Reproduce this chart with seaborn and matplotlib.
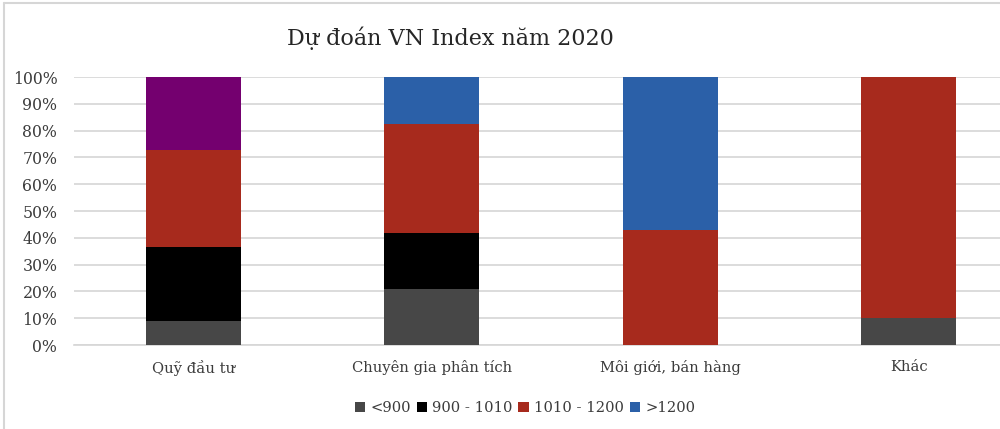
import numpy as np
import pandas as pd
import matplotlib
matplotlib.use("Agg")
import matplotlib.pyplot as plt
from matplotlib.patches import Patch
from matplotlib.lines import Line2D
import seaborn as sns

# Data (percent of respondents per group)
categories = ["Quỹ đầu tư", "Chuyên gia phân tích", "Môi giới, bán hàng", "Khác"]
series_names = ["<900", "900 - 1010", "1010 - 1200", ">1200"]
lt_900 = [9.1, 20.9, 0.0, 10.0]
from_900_to_1010 = [27.3, 20.8, 0.0, 0.0]
from_1010_to_1200 = [36.3, 40.9, 42.9, 90.0]
gt_1200 = [27.3, 17.4, 57.1, 0.0]
series_colors = ["#474747", "#000000", "#a72a1d", "#2b60a8"]
purple = "#74006f"  # first bar's top segment is drawn purple in the original

sns.set_theme(style="white")
plt.rcParams["font.family"] = ["DejaVu Serif"]
text_color = "#3c3c3c"
grid_color = "#d6d6d6"

df = pd.DataFrame({
    "category": categories,
    series_names[0]: lt_900,
    series_names[1]: from_900_to_1010,
    series_names[2]: from_1010_to_1200,
    series_names[3]: gt_1200,
})
# cumulative tops, drawn from the top layer down so lower layers sit on top
cum = df[series_names].cumsum(axis=1)

fig = plt.figure(figsize=(10, 4.29), dpi=100)
ax = fig.add_axes([0.074, 0.1958, 0.954, 0.6247])

for name, color in reversed(list(zip(series_names, series_colors))):
    sns.barplot(x=df["category"], y=cum[name], color=color, width=0.4,
                saturation=1, linewidth=0, ax=ax, zorder=3)

# recolor the >1200 segment of the first bar
n = len(categories)
ax.patches[0].set_facecolor(purple)

ax.set_xlim(-0.5, n - 0.5)
ax.set_ylim(0, 100)
ax.set_yticks(np.arange(0, 101, 10))
ax.set_yticklabels([f"{v}%" for v in range(0, 101, 10)])
ax.set_xlabel("")
ax.set_ylabel("")
ax.yaxis.grid(True, color=grid_color, linewidth=1.2, zorder=0)
ax.set_axisbelow(True)
for side in ["top", "right", "left"]:
    ax.spines[side].set_visible(False)
ax.spines["bottom"].set_color(grid_color)
ax.spines["bottom"].set_linewidth(1.2)
ax.tick_params(axis="y", length=0, pad=12, labelsize=11.3, labelcolor=text_color)
ax.tick_params(axis="x", length=0, pad=11, labelsize=10.6, labelcolor=text_color)

fig.text(0.45, 1 - 38 / 429, "Dự đoán VN Index năm 2020", ha="center", va="center",
         fontsize=16, color="#262626")

handles = [Patch(facecolor=c, edgecolor="none") for c in series_colors]
fig.legend(handles, series_names, loc="center", bbox_to_anchor=(0.525, 1 - 408 / 429),
           ncol=4, frameon=False, fontsize=10.6, handlelength=0.7, handleheight=0.7,
           handletextpad=0.35, columnspacing=0.4, labelcolor=text_color)

# outer chart frame (top and left edges visible in the crop)
fig.add_artist(Line2D([0.004, 1.0], [1 - 3 / 429, 1 - 3 / 429], color=grid_color,
                      linewidth=1.5, transform=fig.transFigure))
fig.add_artist(Line2D([0.004, 0.004], [0.0, 1 - 3 / 429], color=grid_color,
                      linewidth=1.5, transform=fig.transFigure))

fig.savefig("out.png", dpi=100)
